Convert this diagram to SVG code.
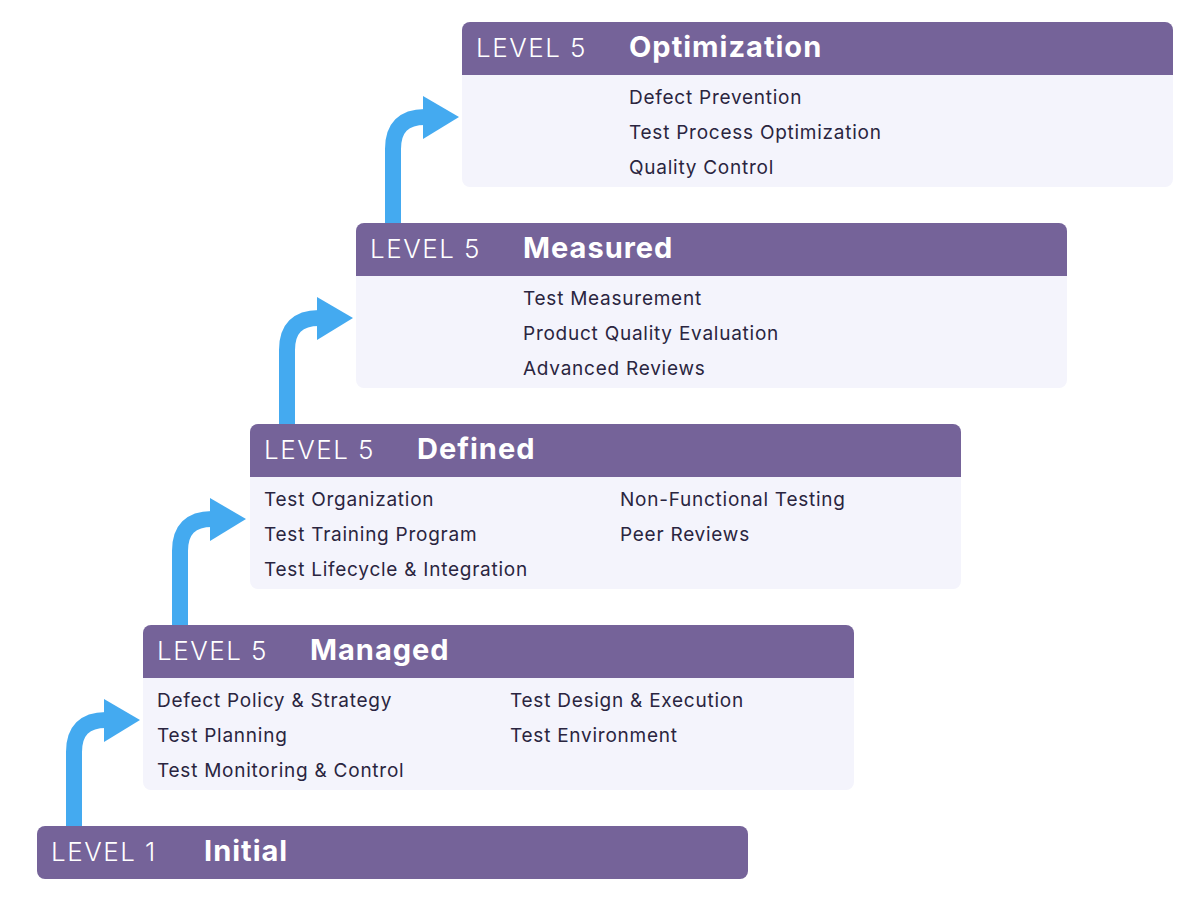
<svg xmlns="http://www.w3.org/2000/svg" width="1200" height="918" viewBox="0 0 1200 918">
<style>
.hd{fill:#756399}.bd{fill:#f4f4fc}
.lv{font-family:Inter,"Noto Sans",sans-serif;font-size:26px;fill:#fff;font-weight:300;letter-spacing:1.5px}
.tt{font-family:Inter,"Noto Sans",sans-serif;font-size:29px;fill:#fff;font-weight:700;letter-spacing:1px}
.tx{font-family:Inter,"Noto Sans",sans-serif;font-size:19px;fill:#2a2540;letter-spacing:0.75px}
.ar{fill:none;stroke:#44aaf0;stroke-width:16}
.ah{fill:#44aaf0}
</style>
<g id="connectors">
<path class="ar" d="M74 830V752Q74 720 106 720H110"/><polygon class="ah" points="104,699 140,720 104,742"/>
<path class="ar" d="M180 629V551Q180 519 212 519H216"/><polygon class="ah" points="210,498 246,519 210,541"/>
<path class="ar" d="M287 428V350Q287 318 319 318H323"/><polygon class="ah" points="317,297 353,318 317,340"/>
<path class="ar" d="M393 227V149Q393 117 425 117H429"/><polygon class="ah" points="423,96 459,117 423,139"/>
</g>
<g id="level5">
<rect class="bd" x="462" y="22" width="711" height="165" rx="8"/>
<path class="hd" d="M470 22H1165A8 8 0 0 1 1173 30V75H462V30A8 8 0 0 1 470 22Z"/>
<text class="lv" x="476" y="57">LEVEL 5</text><text class="tt" x="629" y="57">Optimization</text>
<text class="tx" x="629" y="104">Defect Prevention</text>
<text class="tx" x="629" y="139">Test Process Optimization</text>
<text class="tx" x="629" y="174">Quality Control</text>
</g>
<g id="level4">
<rect class="bd" x="356" y="223" width="711" height="165" rx="8"/>
<path class="hd" d="M364 223H1059A8 8 0 0 1 1067 231V276H356V231A8 8 0 0 1 364 223Z"/>
<text class="lv" x="370" y="258">LEVEL 5</text><text class="tt" x="523" y="258">Measured</text>
<text class="tx" x="523" y="305">Test Measurement</text>
<text class="tx" x="523" y="340">Product Quality Evaluation</text>
<text class="tx" x="523" y="375">Advanced Reviews</text>
</g>
<g id="level3">
<rect class="bd" x="250" y="424" width="711" height="165" rx="8"/>
<path class="hd" d="M258 424H953A8 8 0 0 1 961 432V477H250V432A8 8 0 0 1 258 424Z"/>
<text class="lv" x="264" y="459">LEVEL 5</text><text class="tt" x="417" y="459">Defined</text>
<text class="tx" x="264" y="506">Test Organization</text>
<text class="tx" x="264" y="541">Test Training Program</text>
<text class="tx" x="264" y="576">Test Lifecycle &amp; Integration</text>
<text class="tx" x="620" y="506">Non-Functional Testing</text>
<text class="tx" x="620" y="541">Peer Reviews</text>
</g>
<g id="level2">
<rect class="bd" x="143" y="625" width="711" height="165" rx="8"/>
<path class="hd" d="M151 625H846A8 8 0 0 1 854 633V678H143V633A8 8 0 0 1 151 625Z"/>
<text class="lv" x="157" y="660">LEVEL 5</text><text class="tt" x="310" y="660">Managed</text>
<text class="tx" x="157" y="707">Defect Policy &amp; Strategy</text>
<text class="tx" x="157" y="742">Test Planning</text>
<text class="tx" x="157" y="777">Test Monitoring &amp; Control</text>
<text class="tx" x="510" y="707">Test Design &amp; Execution</text>
<text class="tx" x="510" y="742">Test Environment</text>
</g>
<g id="level1">
<rect class="hd" x="37" y="826" width="711" height="53" rx="8"/>
<text class="lv" x="51" y="861">LEVEL 1</text><text class="tt" x="204" y="861">Initial</text>
</g>
</svg>
